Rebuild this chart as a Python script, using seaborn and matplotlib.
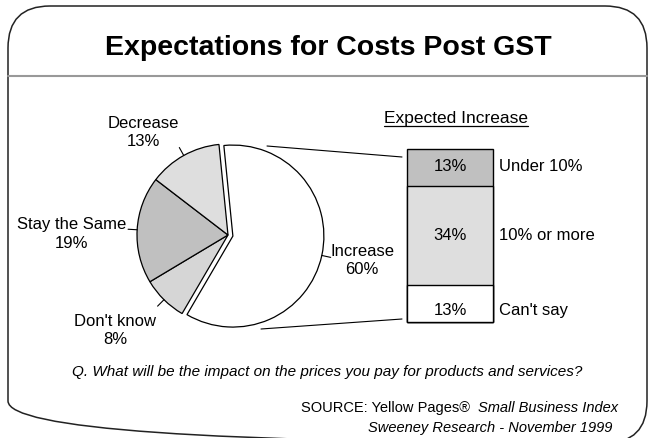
import numpy as np
import seaborn as sns
import matplotlib.pyplot as plt
from matplotlib.patches import FancyBboxPatch

# data
pie_labels = ["Increase", "Don't know", "Stay the Same", "Decrease"]
pie_values = [60, 8, 19, 13]
pie_colors = ["#ffffff", "#d6d6d6", "#c0c0c0", "#dedede"]

bar_labels = ["Can't say", "10% or more", "Under 10%"]
bar_values = [13, 34, 13]
bar_colors = ["#ffffff", "#dedede", "#c0c0c0"]

sns.set_theme(style="white")
plt.rcParams['font.family'] = ['Liberation Sans', 'DejaVu Sans']

W, H = 650, 438
fig = plt.figure(figsize=(6.5, 4.38), dpi=100)
fig.patch.set_facecolor('white')

# frame layer in pixel units
bg = fig.add_axes([0, 0, 1, 1])
bg.set_xlim(0, W)
bg.set_ylim(H, 0)
bg.axis('off')

bg.add_patch(FancyBboxPatch((8, 6), 639, 437, boxstyle="round,pad=0,rounding_size=42",
                            fc='none', ec='#222222', lw=1.1))
bg.plot([8, 647], [76, 76], color='#999999', lw=1.5)
bg.text(328, 48, "Expectations for Costs Post GST", ha='center', va='center',
        fontsize=20.5, fontweight='bold', color='black')

# pie
pie_ax = fig.add_axes([128 / W, 1 - 335 / H, 200 / W, 200 / H])
wedges, _ = pie_ax.pie(pie_values, colors=pie_colors, startangle=95.7, counterclock=False,
                       radius=0.91, explode=[0.05, 0, 0, 0],
                       wedgeprops=dict(edgecolor='black', linewidth=0.9))
pie_ax.set_xlim(-1, 1)
pie_ax.set_ylim(-1, 1)
pie_ax.patch.set_visible(False)

# small leader ticks at the middle of each wedge
for w in wedges:
    ang = np.deg2rad((w.theta1 + w.theta2) / 2)
    cx, cy = w.center
    pie_ax.plot([cx + w.r * np.cos(ang), cx + w.r * 1.1 * np.cos(ang)],
                [cy + w.r * np.sin(ang), cy + w.r * 1.1 * np.sin(ang)],
                color='black', lw=0.8, clip_on=False)

label_pos = {"Increase": (362, 261), "Don't know": (115, 331),
             "Stay the Same": (72, 234), "Decrease": (143, 132)}
for lab, v in zip(pie_labels, pie_values):
    x, y = label_pos[lab]
    bg.text(x, y, f"{lab}\n{v}%", ha='center', va='center', fontsize=12,
            linespacing=1.25, color='black')

# stacked bar for the breakdown of "Increase"
bar_ax = fig.add_axes([407 / W, 1 - 322 / H, 86 / W, 173 / H])
cum = np.cumsum(bar_values)
for top, color in zip(cum[::-1], bar_colors[::-1]):
    sns.barplot(x=["Increase"], y=[top], color=color, width=1, saturation=1,
                edgecolor='black', linewidth=1, ax=bar_ax)
bar_ax.set_xlim(-0.5, 0.5)
bar_ax.set_ylim(0, cum[-1])
bar_ax.axis('off')
bar_ax.patch.set_visible(False)
for p in bar_ax.patches:
    p.set_clip_on(False)

# labels sit a little low in the bottom segment, as in the original
nudge = [-2.5, 0, 0.5]
for v, c, lab, dy in zip(bar_values, cum, bar_labels, nudge):
    mid = c - v / 2 + dy
    bar_ax.text(0, mid, f"{v}%", ha='center', va='center', fontsize=12, color='black')
    bar_ax.text(0.57, mid, lab, ha='left', va='center', fontsize=12, color='black')

# connector lines pie -> bar
bg.plot([267, 402], [146, 157], color='black', lw=0.8)
bg.plot([261, 402], [329, 319], color='black', lw=0.8)

# underlined bar heading
head = bg.text(456, 123, "Expected Increase", ha='center', va='baseline', fontsize=12.5, color='black')
fig.canvas.draw()
bb = head.get_window_extent()
bg.plot([bb.x0, bb.x1], [125.5, 125.5], color='black', lw=0.9)

# footer texts
bg.text(327, 372, "Q. What will be the impact on the prices you pay for products and services?",
        ha='center', va='center', fontsize=11, style='italic', color='black')
src = bg.text(618, 408, "Small Business Index", ha='right', va='center', fontsize=10.5,
              style='italic', color='black')
bg.annotate("SOURCE: Yellow Pages\u00ae", xy=(0, 0.5), xycoords=src, xytext=(-6, 0),
            textcoords='offset points', ha='right', va='center', fontsize=10.5, color='black')
bg.text(612, 428, "Sweeney Research - November 1999", ha='right', va='center', fontsize=10.5,
        style='italic', color='black')

fig.savefig("out.png", dpi=100)
